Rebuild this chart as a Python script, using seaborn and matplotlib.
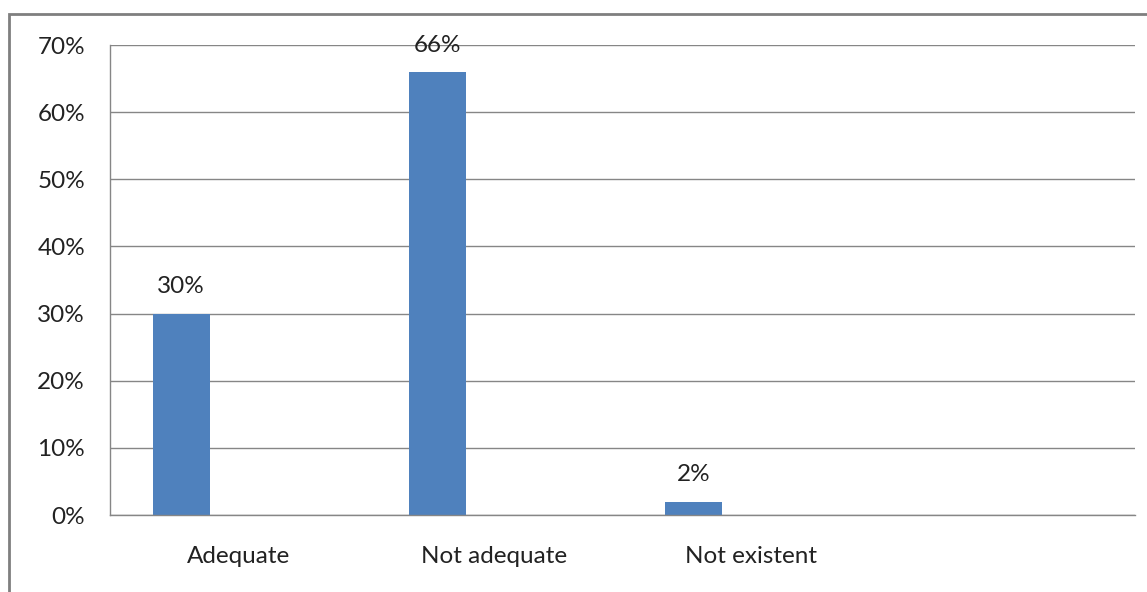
import matplotlib
matplotlib.use('Agg')
import matplotlib.pyplot as plt
import pandas as pd
import seaborn as sns
from matplotlib.patches import Rectangle
from matplotlib.ticker import FuncFormatter, FixedLocator

categories = ['Adequate', 'Not adequate', 'Not existent', '']
values = [0.30, 0.66, 0.02]
series_names = ['Series1', 'Series2', 'Series3']
yticks = [0.0, 0.1, 0.2, 0.3, 0.4, 0.5, 0.6, 0.7]

BAR = '#4F81BD'
GRID = '#868686'
FONT = ['Lato', 'DejaVu Sans']
FS = 17.5


def main():
    sns.set_style('white')
    plt.rcParams['font.family'] = FONT
    plt.rcParams['font.size'] = FS

    # only the first series has values; the other two are empty like in the original
    rows = []
    for cat in categories:
        for s in series_names:
            v = 0.0
            if s == series_names[0] and cat in categories[:len(values)]:
                v = values[categories.index(cat)]
            rows.append(dict(category=cat, series=s, value=v))
    df = pd.DataFrame(rows)

    fig = plt.figure(figsize=(11.47, 5.92), dpi=100)
    ax = fig.add_axes([110 / 1147, 1 - 515 / 592, 1025 / 1147, 470 / 592])

    sns.barplot(
        data=df, x='category', y='value', hue='series',
        order=categories, hue_order=series_names,
        palette=[BAR, BAR, BAR], width=0.668, gap=0, linewidth=0,
        legend=False, ax=ax, saturation=1,
    )

    first = [p for p in ax.patches if p.get_height() > 0]
    for p in first:
        v = p.get_height()
        ax.text(p.get_x() + p.get_width() / 2, v + 0.024, f'{v * 100:.0f}%',
                ha='center', va='bottom', fontsize=FS, color='#222222')

    ax.set_ylim(0, 0.7)
    ax.set_xlim(-0.5, len(categories) - 0.5)
    ax.set_yticks(yticks)
    ax.yaxis.set_major_formatter(FuncFormatter(lambda y, _: f'{y * 100:.0f}%'))
    ax.yaxis.grid(True, color=GRID, linewidth=1)
    ax.set_axisbelow(True)
    ax.set_xlabel('')
    ax.set_ylabel('')

    # category labels centred, tick marks at category boundaries
    ax.set_xticks(range(len(categories)))
    ax.set_xticklabels(categories)
    ax.tick_params(axis='x', length=0, pad=22, labelsize=FS, labelcolor='#222222')
    ax.xaxis.set_minor_locator(FixedLocator([i - 0.5 for i in range(len(categories) + 1)]))
    ax.tick_params(axis='x', which='minor', length=5, color=GRID, width=1, direction='out')
    ax.tick_params(axis='y', length=6, color=GRID, width=1, direction='out',
                   labelsize=FS, labelcolor='#222222', pad=12)

    for s in ['top', 'right']:
        ax.spines[s].set_visible(False)
    for s in ['left', 'bottom']:
        ax.spines[s].set_color(GRID)
        ax.spines[s].set_linewidth(1)

    # chart area border (cut off on the right and bottom like the original)
    fig.patches.append(Rectangle((9 / 1147, -0.1), 1.2, 1 - 14 / 592 + 0.1,
                                 transform=fig.transFigure, fill=False,
                                 edgecolor='#7F7F7F', linewidth=2))

    fig.savefig('out.png', dpi=100)


if __name__ == '__main__':
    main()
